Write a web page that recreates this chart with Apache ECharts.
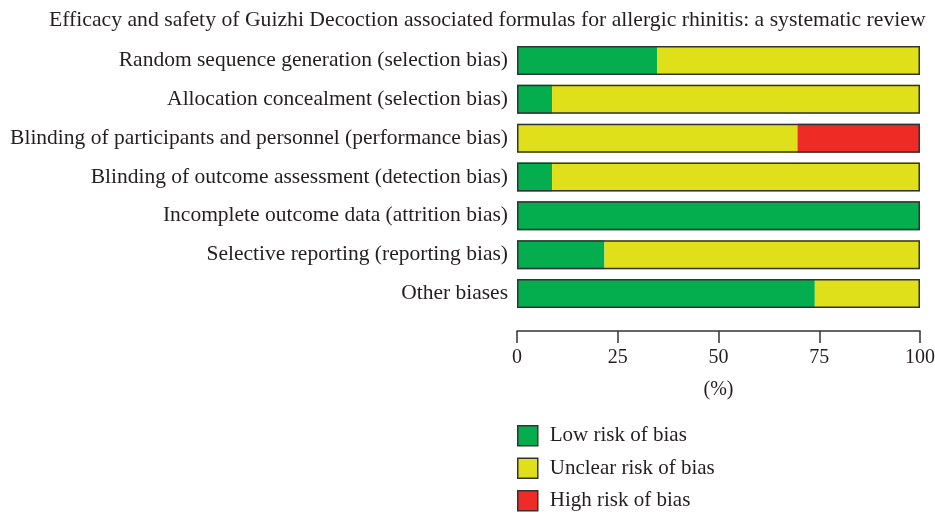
<!DOCTYPE html>
<html><head><meta charset="utf-8">
<script src="https://cdn.jsdelivr.net/npm/echarts@6/dist/echarts.min.js"></script>
<style>html,body{margin:0;padding:0;background:#fff}#c{width:935px;height:515px}</style>
</head><body><div id="c"></div>
<script>
const categories = [
  'Random sequence generation (selection bias)',
  'Allocation concealment (selection bias)',
  'Blinding of participants and personnel (performance bias)',
  'Blinding of outcome assessment (detection bias)',
  'Incomplete outcome data (attrition bias)',
  'Selective reporting (reporting bias)',
  'Other biases'
];
const lowRisk = [34.8, 8.7, 0, 8.7, 100, 21.7, 73.9];
const unclearRisk = [65.2, 91.3, 69.6, 91.3, 0, 78.3, 26.1];
const highRisk = [0, 0, 30.4, 0, 0, 0, 0];
const xTicks = [0, 25, 50, 75, 100];
const titleText = 'Efficacy and safety of Guizhi Decoction associated formulas for allergic rhinitis: a systematic review';

const totals = categories.map((_, i) => lowRisk[i] + unclearRisk[i] + highRisk[i]);
const font = 'Liberation Serif';
const txt = '#231f20';
const chart = echarts.init(document.getElementById('c'));
chart.setOption({
  animation: false,
  title: { text: titleText, left: 44, top: 4, textStyle: { fontFamily: font, fontSize: 21.7, fontWeight: 'normal', color: txt } },
  grid: { left: 517, right: 15, top: 41, height: 272, outerBoundsMode: 'none', containLabel: false },
  xAxis: {
    type: 'value', min: 0, max: 100, interval: 25, offset: 18,
    name: '(%)', nameLocation: 'middle', nameGap: 49,
    nameTextStyle: { fontFamily: font, fontSize: 20, color: txt },
    axisLine: { show: true, lineStyle: { color: '#333', width: 1.5 } },
    axisTick: { show: true, length: 12, inside: false, lineStyle: { color: '#333', width: 1.5 } },
    axisLabel: { fontFamily: font, fontSize: 20, color: txt, margin: 17, formatter: v => xTicks.includes(v) ? String(v) : '' },
    splitLine: { show: false }
  },
  yAxis: {
    type: 'category', data: categories, inverse: true,
    axisLine: { show: false }, axisTick: { show: false },
    axisLabel: { fontFamily: font, fontSize: 21.5, color: txt, margin: 9 }
  },
  legend: {
    orient: 'vertical', left: 512, top: 420, height: 100, itemWidth: 20, itemHeight: 20, itemGap: 11,
    icon: 'rect',
    textStyle: { fontFamily: font, fontSize: 21, color: txt, padding: [0, 0, 0, 7] },
    data: [
      { name: 'Low risk of bias', itemStyle: { color: '#04ad4e', borderColor: '#333', borderWidth: 1.5 } },
      { name: 'Unclear risk of bias', itemStyle: { color: '#e0e01a', borderColor: '#333', borderWidth: 1.5 } },
      { name: 'High risk of bias', itemStyle: { color: '#ee2b24', borderColor: '#333', borderWidth: 1.5 } }
    ]
  },
  series: [
    { name: 'Low risk of bias', type: 'bar', stack: 's', data: lowRisk, barWidth: 29, itemStyle: { color: '#04ad4e' } },
    { name: 'Unclear risk of bias', type: 'bar', stack: 's', data: unclearRisk, barWidth: 29, itemStyle: { color: '#e0e01a' } },
    { name: 'High risk of bias', type: 'bar', stack: 's', data: highRisk, barWidth: 29, itemStyle: { color: '#ee2b24' } },
    { name: 'frame', type: 'bar', data: totals, barWidth: 29, barGap: '-100%', z: 5, silent: true,
      itemStyle: { color: 'rgba(0,0,0,0)', borderColor: '#333', borderWidth: 1.5 } }
  ]
});
</script></body></html>
